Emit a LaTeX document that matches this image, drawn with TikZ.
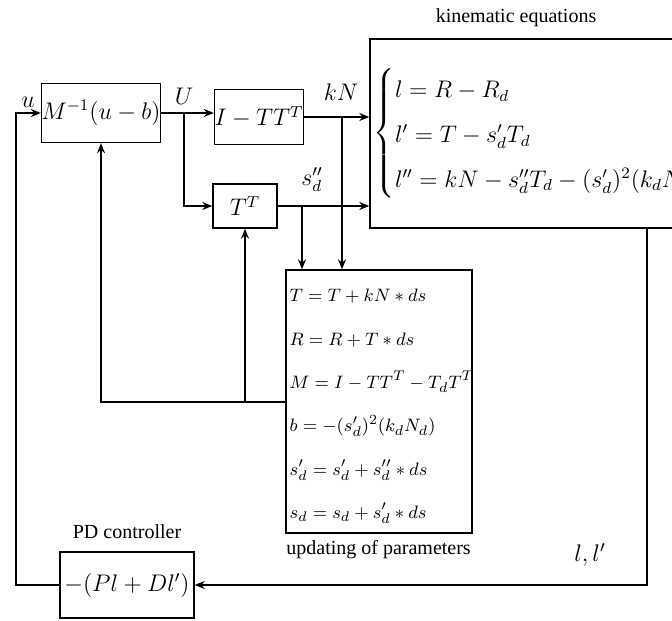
\documentclass[tikz,border=0pt]{standalone}
\usepackage{amsmath}
\usepackage{fontspec}
\setmainfont{Liberation Serif}
\usepackage{tikz}
\usetikzlibrary{arrows.meta, positioning}

\begin{document}
\begin{tikzpicture}[
    x=0.5pt, y=-0.5pt,
    block/.style={rectangle, draw, line width=0.7pt, inner sep=0pt, align=center},
    arrow/.style={->, >={Stealth[length=5pt, width=4pt]}, line width=0.7pt},
    mathlabel/.style={font=\large, inner sep=1pt}
]
    \useasboundingbox (0,0) rectangle (672,620);

    % Blocks
    \node[block, minimum width=55.5pt, minimum height=29.5pt, font=\large] (minv) at (101,113) {$M^{-1}(u-b)$};
    \node[block, minimum width=43pt, minimum height=27.5pt, font=\large] (itt) at (259,117) {$I-TT^T$};
    \node[block, minimum width=32pt, minimum height=22pt, font=\large] (tt) at (245,206) {$T^T$};
    \node[block, minimum width=155pt, minimum height=94.5pt] (kin) at (525,133.5) {};
    \node[block, minimum width=93pt, minimum height=131.5pt] (upd) at (379,401.5) {};
    \node[block, minimum width=67pt, minimum height=33pt, font=\large] (pd) at (127,585) {$-(Pl+Dl')$};

    % Equations
    \node[anchor=west, inner sep=0pt, font=\large] (kineq) at ([xshift=2pt]kin.west)
        {$\def\arraystretch{1.6}\left\{\begin{array}{@{}l@{}}
          l=R-R_d\\
          l'=T-s_d'T_d\\
          l''=kN-s_d''T_d-(s_d')^2(k_dN_d)
        \end{array}\right.$};
    \node[anchor=west, inner sep=0pt, font=\fontsize{9.5}{11.4}\selectfont] (updeq) at ([xshift=2pt]upd.west)
        {$\def\arraystretch{1.9}\begin{array}{@{}l@{}}
          T=T+kN*ds\\
          R=R+T*ds\\
          M=I-TT^T-T_dT^T\\
          b=-(s_d')^2(k_dN_d)\\
          s_d'=s_d'+s_d''*ds\\
          s_d=s_d+s_d'*ds
        \end{array}$};

    % Labels
    \node[mathlabel] (ulab) at (28,102) {$u$};
    \node[mathlabel] (Ulab) at (184,96) {$U$};
    \node[mathlabel] (kNlab) at (341,92) {$kN$};
    \node[mathlabel] (sdlab) at (312,180) {$s_d''$};
    \node (kinlab) at (516,18) {kinematic equations};
    \node[above=3pt of pd] (pdlab) {PD controller};
    \node[anchor=north west, xshift=-3pt] (updlab) at (upd.south west) {updating of parameters};
    \node[mathlabel] (lllab) at (590,555) {$l,l'$};

    % Helper coordinates
    \coordinate (fbx) at (16,0);
    \coordinate (ubr) at (184,0);
    \coordinate (kNx) at (342,0);
    \coordinate (sdx) at (302,0);
    \coordinate (fby) at (0,402);
    \coordinate (rx) at (647,0);

    % Arrows - forward path
    \draw[arrow] (minv.east) -- (minv.east -| itt.west);
    \draw[arrow] (minv.east -| ubr) |- (tt.west);
    \draw[arrow] (itt.east) -- (itt.east -| kin.west);
    \draw[arrow] (tt.east) -- (tt.east -| kin.west);
    \draw[arrow] (itt.east -| kNx) -- (kNx |- upd.north);
    \draw[arrow] (tt.east -| sdx) -- (sdx |- upd.north);

    % Arrows - feedback
    \draw[arrow] (upd.west |- fby) -| (minv.south);
    \draw[arrow] (tt.south |- fby) -- (tt.south);
    \draw[arrow] (kin.south -| rx) |- (pd.east);
    \draw[arrow] (pd.west) -- (pd.west -| fbx) |- (minv.west);

\end{tikzpicture}
\end{document}
